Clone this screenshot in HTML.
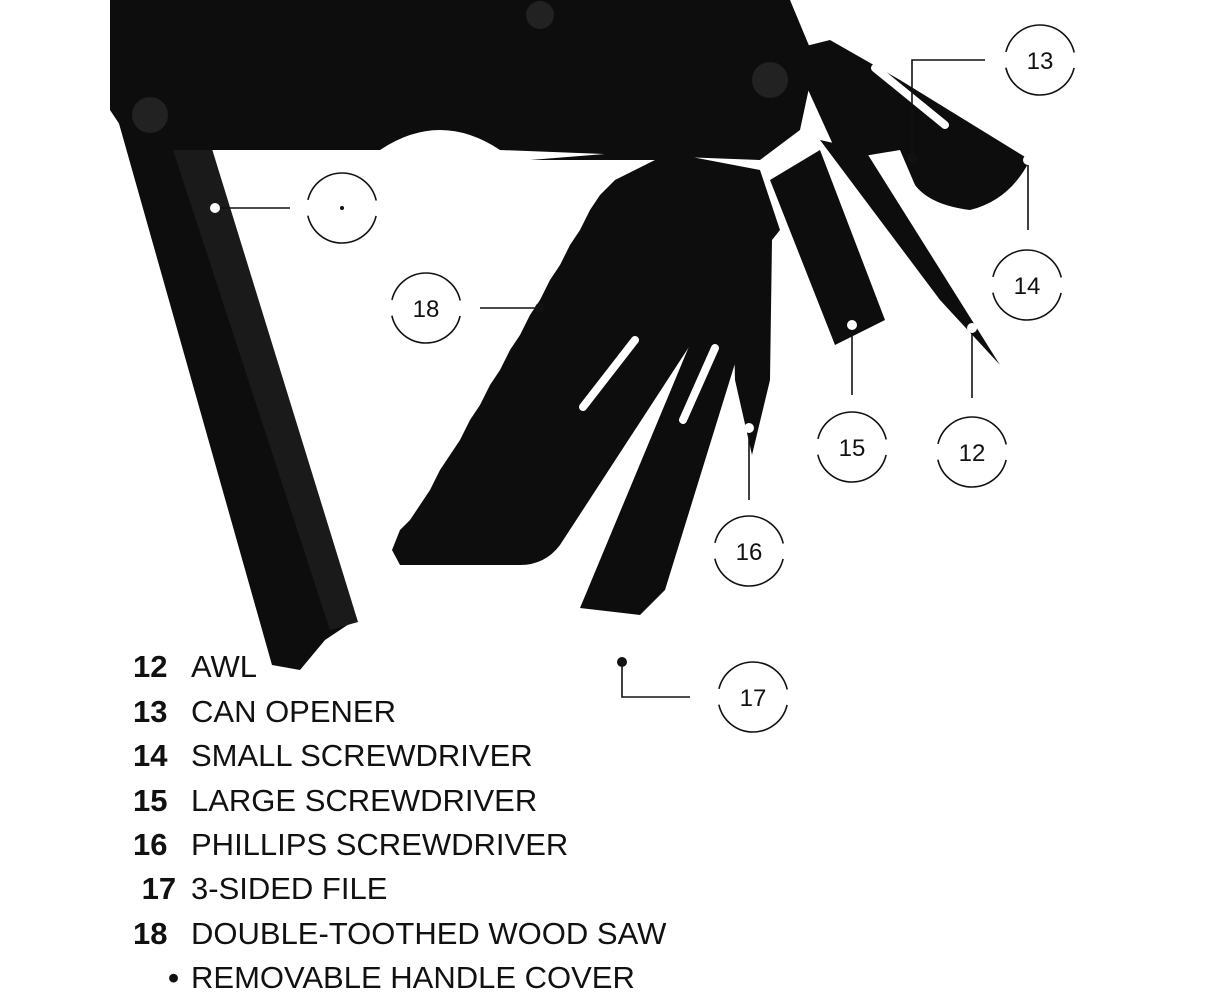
<!DOCTYPE html>
<html><head><meta charset="utf-8"><style>
html,body{margin:0;padding:0;background:#fff;width:1223px;height:1000px;overflow:hidden}
svg{position:absolute;left:0;top:0}
.leg{position:absolute;left:133px;font-family:"Liberation Sans",sans-serif;font-size:31px;color:#111;line-height:1;letter-spacing:0}
.leg b{display:inline-block;width:58px;font-weight:bold}
</style></head><body>
<svg width="1223" height="1000" viewBox="0 0 1223 1000">
<g fill="#0d0d0d">
<polygon points="118,120 168,110 355,620 325,640 300,670 272,665"/>
<polygon points="160,110 200,110 358,622 330,630" fill="#1a1a1a"/>
<path d="M110,0 L790,0 L815,60 L800,130 L760,160 L500,150 Q440,110 380,150 L170,150 L130,140 L110,110 Z"/>
<circle cx="150" cy="115" r="18" fill="#222"/>
<path d="M530,160 L655,150 L760,170 L780,230 L700,330 L560,545 Q545,565 520,565 L400,565 L392,550 L400,530 L410,520 L420,505 L430,490 L440,470 L450,455 L460,440 L470,420 L480,405 L490,385 L500,370 L510,350 L520,335 L530,315 L540,300 L550,280 L560,265 L570,245 L580,230 L590,210 L600,195 L615,180 L635,170 L655,160 Z"/>
<polygon points="580,608 640,615 665,590 770,250 765,215 720,225 700,320"/>
<polygon points="732,250 772,240 770,380 752,455 735,380"/>
<polygon points="770,180 820,150 885,320 835,345"/>
<polygon points="820,140 865,150 1000,365 940,300"/>
<path d="M790,50 L830,40 L900,80 L1030,160 Q1010,200 970,210 Q930,205 915,185 L900,150 L840,160 Z"/>
<circle cx="770" cy="80" r="18" fill="#222"/>
<circle cx="540" cy="15" r="14" fill="#222"/>
</g>
<g stroke="#fff" stroke-width="8" stroke-linecap="round">
<line x1="583" y1="407" x2="635" y2="340"/>
<line x1="683" y1="420" x2="715" y2="348"/>
<line x1="875" y1="68" x2="945" y2="125"/>
</g>
<g stroke="#111" stroke-width="1.6" fill="none">
<polyline points="215,208 290,208"/>
<polyline points="480,308 540,308"/>
<polyline points="912,158 912,60 985,60"/>
<polyline points="1028,160 1028,230"/>
<polyline points="852,325 852,395"/>
<polyline points="972,328 972,398"/>
<polyline points="749,428 749,500"/>
<polyline points="622,662 622,697 690,697"/>
</g>
<g fill="#fff"><circle cx="215" cy="208" r="5"/><circle cx="1028" cy="160" r="5"/><circle cx="852" cy="325" r="5"/><circle cx="972" cy="328" r="5"/><circle cx="749" cy="428" r="5"/></g>
<g fill="#111"><circle cx="540" cy="308" r="5"/><circle cx="912" cy="158" r="5"/><circle cx="622" cy="662" r="5"/><circle cx="342" cy="208" r="2"/></g>
<g stroke="#111" stroke-width="1.6" fill="none" stroke-dasharray="94 16" stroke-dashoffset="-8">
<circle cx="342" cy="208" r="35"/>
<circle cx="426" cy="308" r="35"/>
<circle cx="1040" cy="60" r="35"/>
<circle cx="1027" cy="285" r="35"/>
<circle cx="852" cy="447" r="35"/>
<circle cx="972" cy="452" r="35"/>
<circle cx="749" cy="551" r="35"/>
<circle cx="753" cy="697" r="35"/>
</g>
<g font-family="Liberation Sans,sans-serif" font-size="24" fill="#111" text-anchor="middle">
<text x="426" y="317">18</text><text x="1040" y="69">13</text><text x="1027" y="294">14</text>
<text x="852" y="456">15</text><text x="972" y="461">12</text><text x="749" y="560">16</text><text x="753" y="706">17</text>
</g>
</svg>
<div class="leg" style="top:651px"><b>12</b>AWL</div>
<div class="leg" style="top:696px"><b>13</b>CAN OPENER</div>
<div class="leg" style="top:740px"><b>14</b>SMALL SCREWDRIVER</div>
<div class="leg" style="top:785px"><b>15</b>LARGE SCREWDRIVER</div>
<div class="leg" style="top:829px"><b>16</b>PHILLIPS SCREWDRIVER</div>
<div class="leg" style="top:873px"><b>&nbsp;17</b>3-SIDED FILE</div>
<div class="leg" style="top:918px"><b>18</b>DOUBLE-TOOTHED WOOD SAW</div>
<div class="leg" style="top:962px"><b style="text-align:right;padding-right:12px;width:46px">•</b>REMOVABLE HANDLE COVER</div>
</body></html>
